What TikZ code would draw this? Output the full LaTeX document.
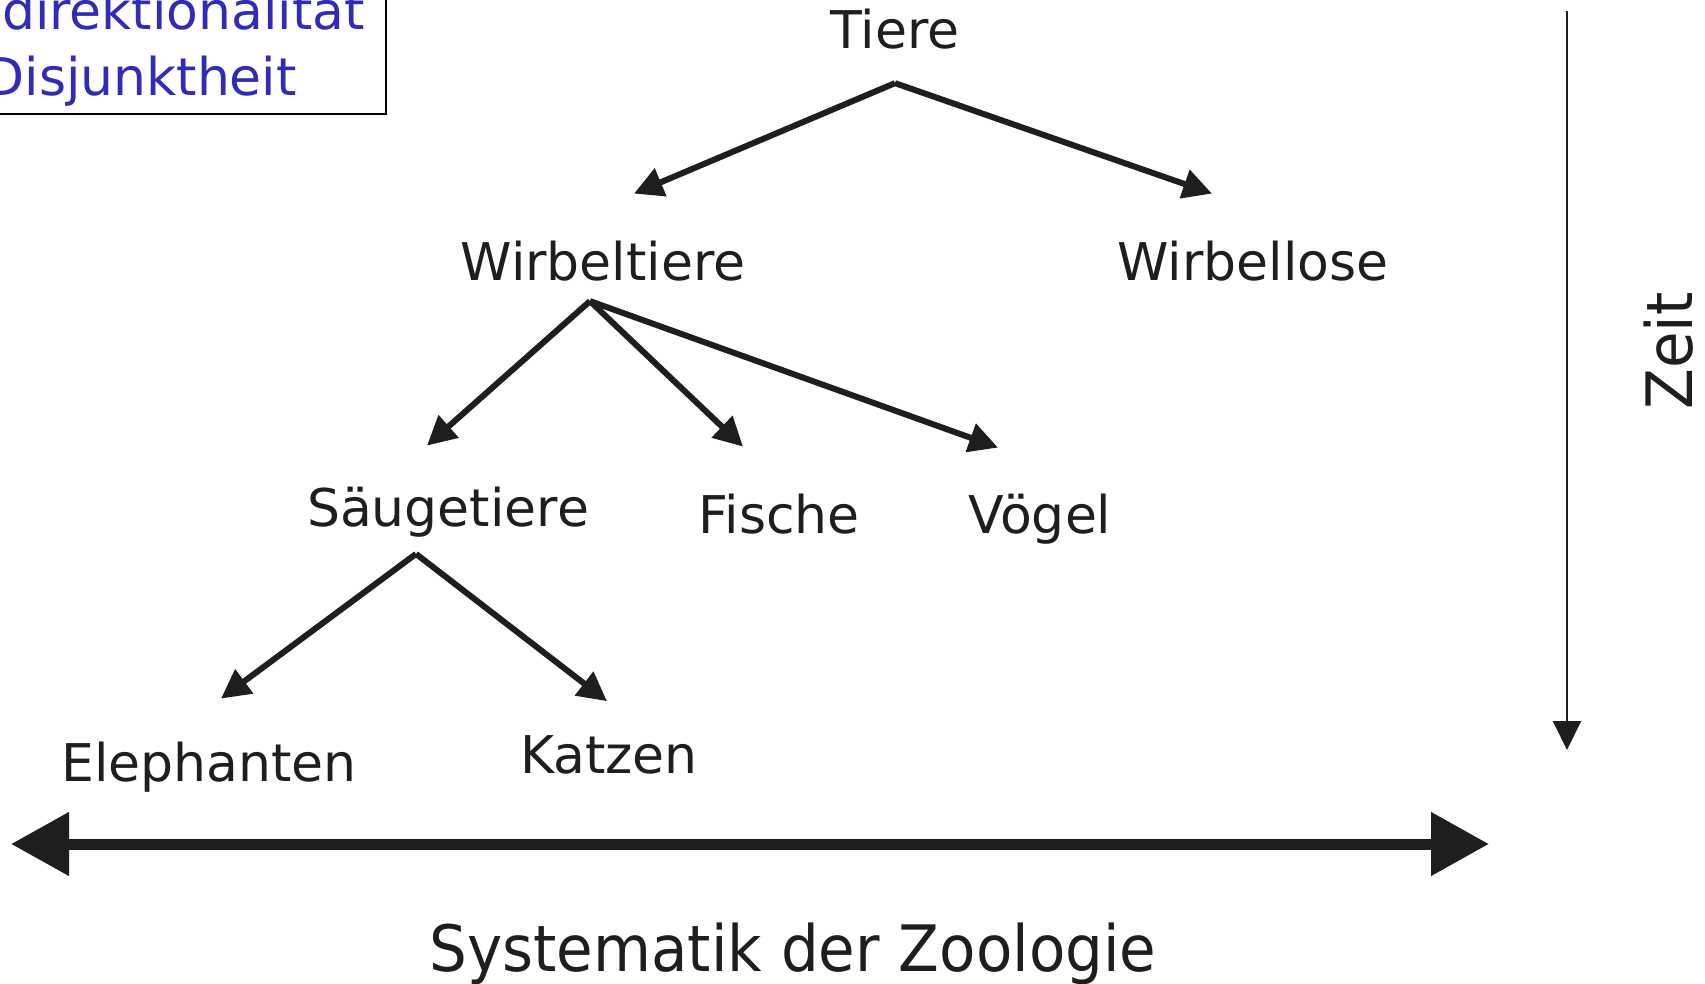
\documentclass[tikz,border=0pt]{standalone}
\usepackage{fontspec}
\setmainfont{DejaVu Sans}
\newfontfamily\axisfont[FakeStretch=0.93]{DejaVu Sans}
\usetikzlibrary{arrows.meta,shadows}

\definecolor{legendblue}{RGB}{48,44,184}
\definecolor{inkblack}{RGB}{30,30,30}

\begin{document}
\begin{tikzpicture}[x=0.5pt, y=-0.5pt,
		taxon/.style={anchor=base, inner sep=0pt, text=inkblack, font=\fontsize{26}{31}\selectfont},
		axislabel/.style={anchor=base, inner sep=0pt, text=inkblack, font=\axisfont\fontsize{32}{38}\selectfont},
		legend/.style={draw=black, line width=1.2pt, fill=white, text=legendblue, align=center,
			inner xsep=10.5pt, inner ysep=3.5pt, font=\fontsize{26}{33}\selectfont,
			drop shadow={shadow xshift=0.8pt, shadow yshift=-0.8pt, opacity=0.45}},
		branch/.style={draw=inkblack, line width=3pt, -{Triangle[length=14.5pt, width=14.5pt]}},
		span/.style={draw=inkblack, line width=5.5pt, {Triangle[length=29pt, width=30.5pt]}-{Triangle[length=29pt, width=30.5pt]}},
		timeline/.style={draw=inkblack, line width=1pt, -{Triangle[length=14.5pt, width=14pt]}}
	]
		\useasboundingbox (0,0) rectangle (1705,984);
		
		% Box with the properties (cut by the page edge)
		\node[legend, anchor=south east] (props) at (387,115) {Unidirektionalität\\Disjunktheit};
		
		% The taxa, placed on their base lines
		\node[taxon] (tiere) at (895,49) {Tiere};
		\node[taxon] (wirbeltiere) at (603,281) {Wirbeltiere};
		\node[taxon] (wirbellose) at (1253,281) {Wirbellose};
		\node[taxon] (saeugetiere) at (448,527) {Säugetiere};
		\node[taxon] (fische) at (779,534) {Fische};
		\node[taxon] (voegel) at (1040,534) {Vögel};
		\node[taxon] (elephanten) at (209,781) {Elephanten};
		\node[taxon] (katzen) at (609,773) {Katzen};
		
		% Branches of the tree
		\draw[branch] ([yshift=-16.5pt]tiere.south) -- ([xshift=15.5pt, yshift=23.75pt]wirbeltiere.north);
		\draw[branch] ([yshift=-16.5pt]tiere.south) -- ([xshift=-20.5pt, yshift=23.75pt]wirbellose.north);
		\draw[branch] ([xshift=-6.5pt, yshift=-9.5pt]wirbeltiere.south) -- ([xshift=-10.5pt, yshift=20.75pt]saeugetiere.north);
		\draw[branch] ([xshift=-6.5pt, yshift=-9.5pt]wirbeltiere.south) -- ([xshift=-18pt, yshift=23.75pt]fische.north);
		\draw[branch] ([xshift=-6.5pt, yshift=-9.5pt]wirbeltiere.south) -- ([xshift=-21pt, yshift=23.25pt]voegel.north);
		\draw[branch] ([xshift=-16pt, yshift=-7.85pt]saeugetiere.south) -- ([xshift=6pt, yshift=21.25pt]elephanten.north);
		\draw[branch] ([xshift=-16pt, yshift=-7.85pt]saeugetiere.south) -- ([xshift=-1pt, yshift=16.75pt]katzen.north);
		
		% Horizontal axis
		\coordinate (spanL) at (11,844);
		\coordinate (spanR) at (1489,844);
		\draw[span] (spanL) -- (spanR);
		\node[axislabel] (systematik) at (793,971) {Systematik der Zoologie};
		
		% Time axis
		\coordinate (timeTop) at (1567,11);
		\coordinate (timeEnd) at (1567,750);
		\draw[timeline] (timeTop) -- (timeEnd);
		\node[axislabel, rotate=90] (zeit) at (1692,351) {Zeit};
	\end{tikzpicture}
\end{document}
